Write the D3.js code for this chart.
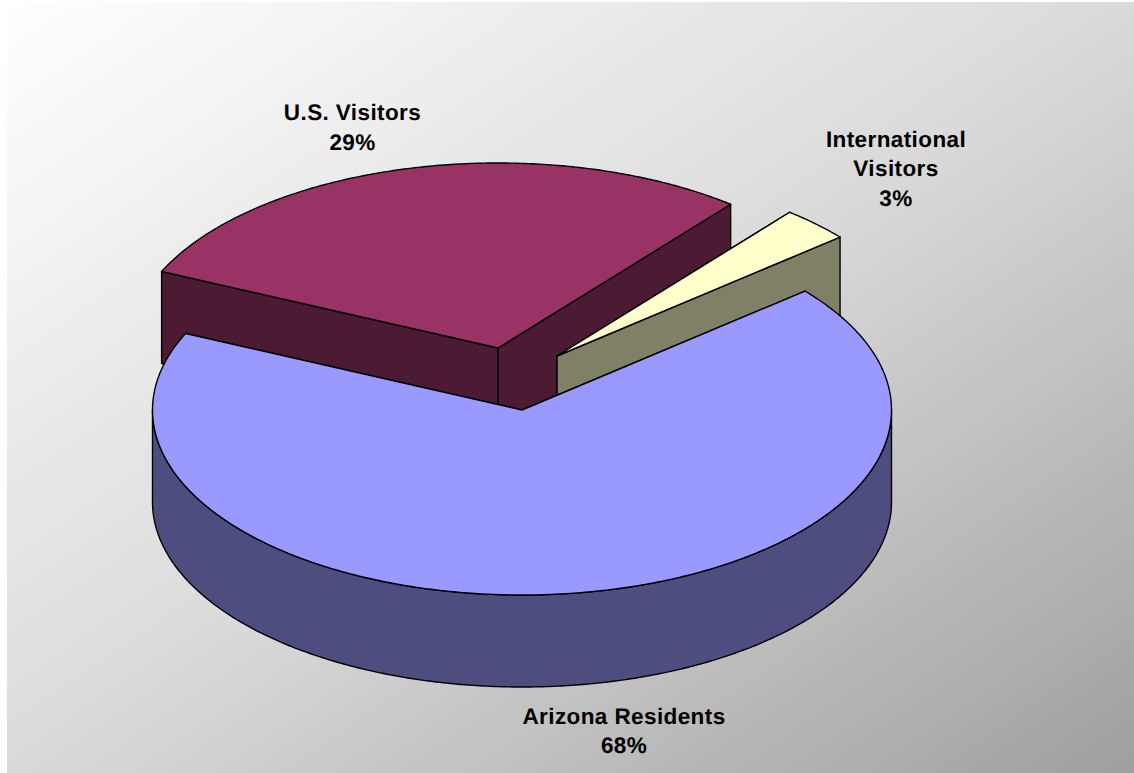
<!DOCTYPE html>
<html><head><meta charset="utf-8">
<style>html,body{margin:0;padding:0;background:#fff}svg{display:block}</style>
<script src="https://cdn.jsdelivr.net/npm/d3@7/dist/d3.min.js"></script>
</head><body><svg id="c" width="1134" height="773"></svg>
<script>
const categories = ["Arizona Residents", "U.S. Visitors", "International Visitors"];
const values = [67.9, 29.05, 3.05];
const topColors = ["#9999FF", "#993366", "#FFFFCC"];
const sideColors = ["#4D4D80", "#4D1A33", "#808066"];
const labelLines = [["Arizona Residents", "68%"], ["U.S. Visitors", "29%"], ["International", "Visitors", "3%"]];

const W = 1134, H = 773;
const RX = 369.5, RY = 185, DEPTH = 92;
const START = 50 * Math.PI / 180;
const centers = [[522, 410], [498, 348], [557, 356]];
const labelPos = [[624, 723.5], [352.5, 120], [896, 146.5]];
const drawOrder = [1, 2, 0];

const svg = d3.select("#c");
const defs = svg.append("defs");
const grad = defs.append("linearGradient").attr("id", "bg")
  .attr("x1", 0).attr("y1", 0).attr("x2", 1).attr("y2", 1);
grad.append("stop").attr("offset", "0%").attr("stop-color", "#ffffff");
grad.append("stop").attr("offset", "50%").attr("stop-color", "#dadada");
grad.append("stop").attr("offset", "100%").attr("stop-color", "#9f9f9f");
svg.append("rect").attr("x", 7).attr("y", 2).attr("width", W - 7).attr("height", H - 2).attr("fill", "url(#bg)");

const arcs = d3.pie().sort(null).startAngle(START).endAngle(START + 2 * Math.PI)(values);
const sx = d3.scaleLinear().domain([-1, 1]).range([-RX, RX]);
const sy = d3.scaleLinear().domain([-1, 1]).range([RY, -RY]);
const pt = (c, a, dy = 0) => [c[0] + sx(Math.sin(a)), c[1] + sy(Math.cos(a)) + dy];
const line = d3.line();
const samples = (a0, a1) => {
  const n = Math.max(2, Math.ceil(Math.abs(a1 - a0) / 0.01));
  return d3.range(n + 1).map(i => a0 + (a1 - a0) * i / n);
};
const style = { stroke: "#000", "stroke-width": 1.4, "stroke-linejoin": "round" };
const shape = (pts, fill) => {
  const p = svg.append("path").attr("d", line(pts) + "Z").attr("fill", fill);
  Object.entries(style).forEach(([k, v]) => p.attr(k, v));
};

drawOrder.forEach(i => {
  const d = arcs[i], c = centers[i];
  const down = p => [p[0], p[1] + DEPTH];
  [d.startAngle, d.endAngle].forEach(a => {
    const e = pt(c, a);
    shape([c, e, down(e), down(c)], sideColors[i]);
  });
  const lo = Math.max(d.startAngle, Math.PI / 2), hi = Math.min(d.endAngle, 3 * Math.PI / 2);
  if (hi > lo) {
    const rim = samples(lo, hi).map(a => pt(c, a));
    shape(rim.concat(rim.map(down).reverse()), sideColors[i]);
  }
  shape([c].concat(samples(d.startAngle, d.endAngle).map(a => pt(c, a))), topColors[i]);
});

labelLines.forEach((lines, i) => {
  const t = svg.append("text").attr("text-anchor", "middle")
    .attr("font-family", "'Liberation Sans', Arial, sans-serif")
    .attr("font-weight", "bold").attr("font-size", 22.5).attr("letter-spacing", 0.4)
    .attr("text-rendering", "geometricPrecision").attr("fill", "#000");
  lines.forEach((s, j) => t.append("tspan").attr("x", labelPos[i][0]).attr("y", labelPos[i][1] + j * 29.5).text(s));
});
</script></body></html>
